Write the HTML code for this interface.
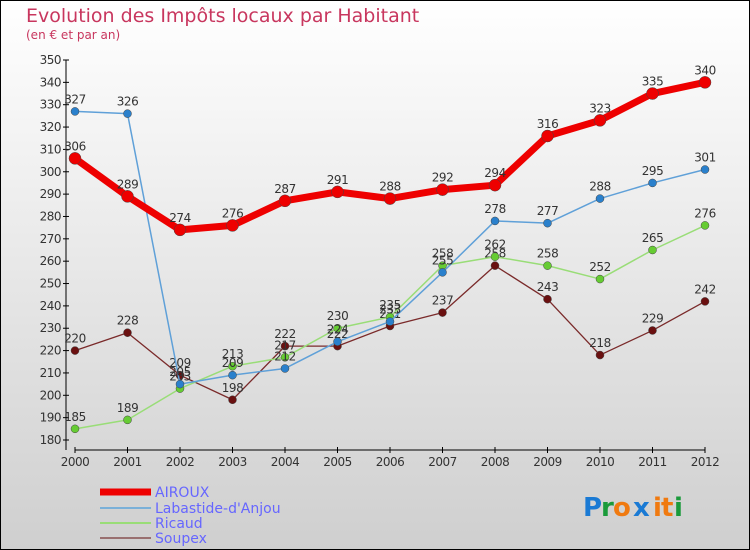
<!DOCTYPE html>
<html><head><meta charset="utf-8"><style>
body{margin:0}
svg{display:block;font-family:"DejaVu Sans","Liberation Sans",sans-serif}
</style></head><body>
<svg width="750" height="550">
<defs><linearGradient id="bg" x1="0" y1="0" x2="0" y2="1"><stop offset="0" stop-color="#ffffff"/><stop offset="1" stop-color="#cfcfcf"/></linearGradient></defs>
<rect x="0.5" y="0.5" width="749" height="549" fill="url(#bg)" stroke="#000"/>
<text x="26" y="22" font-size="19" fill="#c8365e">Evolution des Impôts locaux par Habitant</text>
<text x="26" y="39" font-size="12" fill="#c8365e">(en € et par an)</text>
<g id="axes"></g><g id="series"></g>
<g>
<line x1="100" y1="492" x2="151" y2="492" stroke="#ee0000" stroke-width="7"/>
<line x1="100" y1="508" x2="151" y2="508" stroke="#7ab0d8" stroke-width="2"/>
<line x1="100" y1="523" x2="151" y2="523" stroke="#99dd77" stroke-width="2"/>
<line x1="100" y1="538" x2="151" y2="538" stroke="#997070" stroke-width="2"/>
<g font-size="14" fill="#6666ff">
<text x="155" y="497">AIROUX</text>
<text x="155" y="513">Labastide-d'Anjou</text>
<text x="155" y="528">Ricaud</text>
<text x="155" y="543">Soupex</text>
</g></g>
<g font-size="26" font-weight="bold">
<text x="583" y="516" fill="#1a7ad4">P</text><text x="601" y="516" fill="#1a9a3a">r</text><text x="613" y="516" fill="#f07a10">o</text><text x="633" y="516" fill="#1a7ad4">x</text><text x="653" y="516" fill="#f07a10">i</text><text x="661" y="516" fill="#f07a10">t</text><text x="674" y="516" fill="#1a9a3a">i</text>
</g>
</svg>
<script>
const years=["2000","2001","2002","2003","2004","2005","2006","2007","2008","2009","2010","2011","2012"];
const yTicks=[180,190,200,210,220,230,240,250,260,270,280,290,300,310,320,330,340,350];
const labastide=[327,326,205,209,212,224,233,255,278,277,288,295,301];
const ricaud=[185,189,203,213,217,230,235,258,262,258,252,265,276];
const soupex=[220,228,209,198,222,222,231,237,258,243,218,229,242];
const airoux=[306,289,274,276,287,291,288,292,294,316,323,335,340];
const NS="http://www.w3.org/2000/svg";
const X=i=>75+i*52.5, Y=v=>440-(v-180)*380/170;
function mk(t,a,p){const e=document.createElementNS(NS,t);for(const k in a)e.setAttribute(k,a[k]);p.appendChild(e);return e;}
const ax=document.getElementById('axes');
let l=mk('line',{x1:66,y1:60,x2:66,y2:450,stroke:'#000'},ax);


l=mk('line',{x1:75,y1:450,x2:705,y2:450,stroke:'#000'},ax);


yTicks.forEach(v=>{mk('line',{x1:63,y1:Y(v),x2:69,y2:Y(v),stroke:'#000'},ax);
const t=mk('text',{x:61,y:Y(v)+4,'text-anchor':'end','font-size':12,fill:'#333','letter-spacing':'-0.5'},ax);t.textContent=v;

});
years.forEach((y,i)=>{mk('line',{x1:X(i),y1:447,x2:X(i),y2:453,stroke:'#000'},ax);
const t=mk('text',{x:X(i),y:466,'text-anchor':'middle','font-size':12,fill:'#333','letter-spacing':'-0.5'},ax);t.textContent=y;

});
const sg=document.getElementById('series');
function draw(name,d,color,w,r,fill){const g=mk('g',{},sg);


const p=mk('polyline',{points:d.map((v,i)=>X(i)+','+Y(v)).join(' '),fill:'none',stroke:color,'stroke-width':w,'stroke-linejoin':'round'},g);
d.forEach((v,i)=>{const c=mk('circle',{cx:X(i),cy:Y(v),r:r,fill:fill,stroke:'#444','stroke-width':0.5},g);


const t=mk('text',{x:X(i),y:Y(v)-8,'text-anchor':'middle','font-size':12,fill:'#333','letter-spacing':'-0.5'},g);t.textContent=v;

});}
draw('soupex',soupex,'#7a2a2a',1.3,4,'#6a1010');
draw('ricaud',ricaud,'#99dd77',1.5,4,'#66cc33');
draw('labastide',labastide,'#5fa0d8',1.5,4,'#2a80cc');
draw('airoux',airoux,'#ee0000',7,6,'#ee0000');
</script>
</body></html>
